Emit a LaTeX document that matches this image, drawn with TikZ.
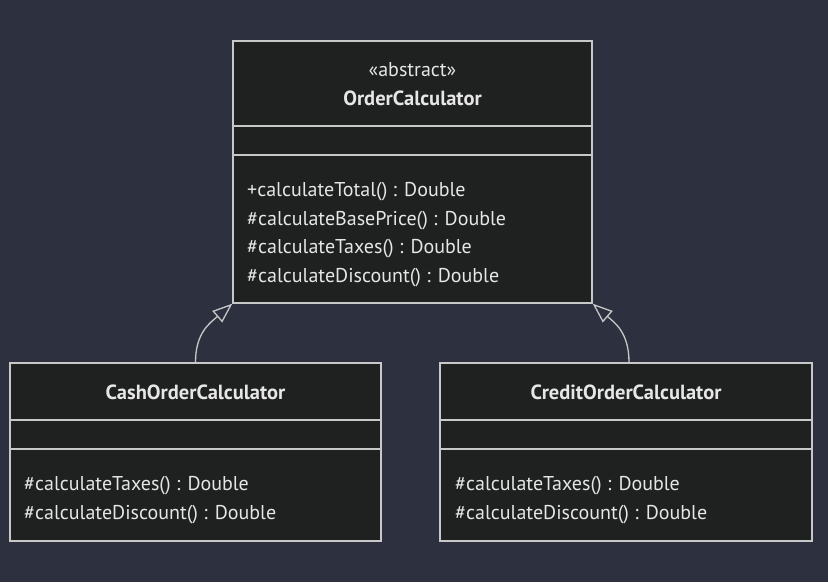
\documentclass[tikz,border=0pt]{standalone}
\usepackage{fontspec}
\setmainfont{PT Sans}
\usetikzlibrary{arrows.meta}
\definecolor{bg}{RGB}{45,49,63}
\definecolor{boxfill}{RGB}{31,32,32}
\definecolor{boxline}{RGB}{200,200,200}
\definecolor{txt}{RGB}{230,230,230}
\begin{document}
\begin{tikzpicture}[x=1pt,y=-1pt,
  umlbox/.style={draw=boxline, fill=boxfill, line width=1.3pt, inner sep=0pt},
  divider/.style={draw=boxline, line width=1.3pt},
  ttl/.style={text=txt, font=\fontsize{20.5}{24}\selectfont\bfseries, inner sep=0pt},
  stereo/.style={text=txt, font=\fontsize{20}{24}\selectfont, inner sep=0pt},
  meth/.style={text=txt, font=\fontsize{20}{24}\selectfont, inner sep=0pt, anchor=west},
  inherit/.style={draw=boxline, line width=1.3pt, -{Triangle[open, length=20pt, width=15pt, line width=1.3pt]}}
]
\fill[bg] (0,0) rectangle (828,582);
\useasboundingbox (0,0) rectangle (828,582);

% boxes
\node[umlbox, minimum width=359pt, minimum height=262pt] (order) at (412.5,172) {};
\node[umlbox, minimum width=371pt, minimum height=178pt] (cash) at (195.5,452) {};
\node[umlbox, minimum width=372pt, minimum height=178pt] (credit) at (626,452) {};

% dividers
\draw[divider] (order.west |- 0,126) -- (order.east |- 0,126);
\draw[divider] (order.west |- 0,155) -- (order.east |- 0,155);
\draw[divider] (cash.west |- 0,420) -- (cash.east |- 0,420);
\draw[divider] (cash.west |- 0,449) -- (cash.east |- 0,449);
\draw[divider] (credit.west |- 0,420) -- (credit.east |- 0,420);
\draw[divider] (credit.west |- 0,449) -- (credit.east |- 0,449);

% texts
\node[stereo] (ordst) at (412.5,70) {«abstract»};
\node[ttl] (ordname) at (412.5,98) {OrderCalculator};
\node[meth] (om1) at (247,192) {+calculateTotal() : Double};
\node[meth] (om2) at (247,221) {\#calculateBasePrice() : Double};
\node[meth] (om3) at (247,249) {\#calculateTaxes() : Double};
\node[meth] (om4) at (247,278) {\#calculateDiscount() : Double};

\node[ttl] (cashname) at (195.5,392) {CashOrderCalculator};
\node[meth] (cm1) at (24,486) {\#calculateTaxes() : Double};
\node[meth] (cm2) at (24,515) {\#calculateDiscount() : Double};

\node[ttl] (creditname) at (626,392) {CreditOrderCalculator};
\node[meth] (rm1) at (455,486) {\#calculateTaxes() : Double};
\node[meth] (rm2) at (455,515) {\#calculateDiscount() : Double};

% inheritance
\coordinate (cashtop) at (cash.north);
\coordinate (credtop) at ([xshift=3pt]credit.north);
\draw[inherit] (cashtop) .. controls +(0,-30) and +(-22,19) .. (order.south west);
\draw[inherit] (credtop) .. controls +(0,-30) and +(22,19) .. (order.south east);
\end{tikzpicture}
\end{document}
